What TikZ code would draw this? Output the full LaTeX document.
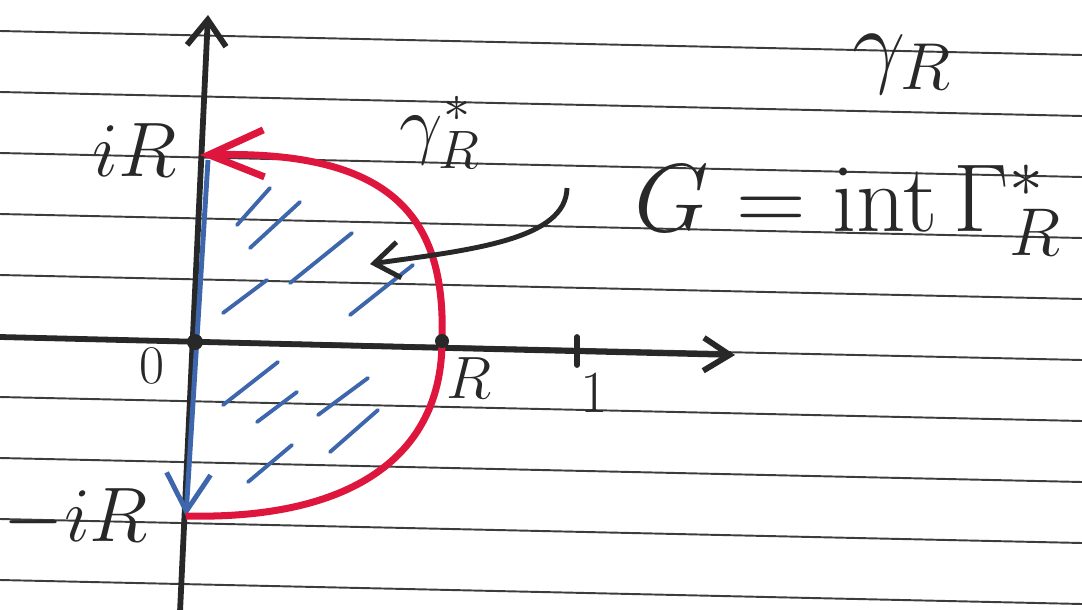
\documentclass[tikz,border=0pt]{standalone}
\usepackage{fix-cm}
\usetikzlibrary{arrows.meta}
\definecolor{pen}{RGB}{40,40,40}
\definecolor{redpen}{RGB}{222,22,62}
\definecolor{bluepen}{RGB}{62,102,172}
\definecolor{paperline}{RGB}{60,60,60}
\begin{document}
\begin{tikzpicture}[x=0.02cm,y=-0.02cm,
  rule/.style={paperline,line width=1.1pt},
  axis/.style={pen,line width=3.3pt,line cap=round},
  hatch/.style={bluepen,line width=2.2pt,line cap=round},
  lbl/.style={text=pen,font=\fontsize{44}{50}\selectfont},
  small lbl/.style={text=pen,font=\fontsize{34}{40}\selectfont}]
\useasboundingbox (0,0) rectangle (1082,609);
\clip (0,0) rectangle (1082,609);
\fill[white] (0,0) rectangle (1082,609);
\foreach \k in {0,...,9}
  \draw[rule] (0,31+61*\k) -- (1082,55+61*\k);
\coordinate (O) at (195,342);
\coordinate (R) at (442,341);
\coordinate (iR) at (200,155);
\coordinate (miR) at (186,516);
\coordinate (xl) at (0,337);
\coordinate (xr) at (735,355);
\coordinate (yb) at (180,612);
\coordinate (yt) at (208,15);
\coordinate (ptr) at (567,188);
\coordinate (ptrend) at (370,264);
\draw[axis,-{Straight Barb[length=0.52cm,width=0.66cm]}] (xl) -- (xr);
\draw[axis,-{Straight Barb[length=0.52cm,width=0.78cm]}] (yb) -- (yt);
\draw[axis] (577,337) -- (577,365);
\foreach \a/\b/\c/\d in {237/225/270/188, 250/248/300/202, 290/283/352/233,
  223/313/267/280, 350/315/413/265, 223/405/278/362, 257/422/297/392,
  318/415/368/378, 330/452/378/410, 248/482/292/445}
  \draw[hatch] (\a,\b) -- (\c,\d);
\draw[bluepen,line width=2.8pt,-{Straight Barb[length=0.75cm,width=0.88cm]}] (208,160) -- (miR);
\draw[redpen,line width=4pt,-{Straight Barb[length=1.1cm,width=0.94cm]}]
  (miR) .. controls (360,520) and (442,450) .. (R)
  .. controls (446,222) and (398,150) .. (iR);
\fill[pen] (O) circle (8);
\fill[pen] (R) circle (7);
\draw[pen,line width=2.8pt,-{Straight Barb[length=0.5cm,width=0.72cm]}]
  (ptr) .. controls (566,240) and (470,250) .. (ptrend);
\node[lbl] (iRlbl) at (135,150) {$iR$};
\node[lbl] (miRlbl) at (76,518) {$-iR$};
\node[text=pen,font=\fontsize{31}{36}\selectfont] (Olbl) at (152,366) {$0$};
\node[small lbl] (Rlbl) at (469,378) {$R$};
\node[small lbl] (onelbl) at (594,393) {$1$};
\node[lbl] (gamma) at (440,132) {$\gamma^{*}_{R}$};
\node[text=pen,font=\fontsize{55}{60}\selectfont] (Glbl) at (848,210) {$G=\mathrm{int}\,\Gamma^{*}_{R}$};
\node[text=pen,font=\fontsize{54}{60}\selectfont] (topgamma) at (902,64) {$\gamma_{R}$};
\end{tikzpicture}
\end{document}
